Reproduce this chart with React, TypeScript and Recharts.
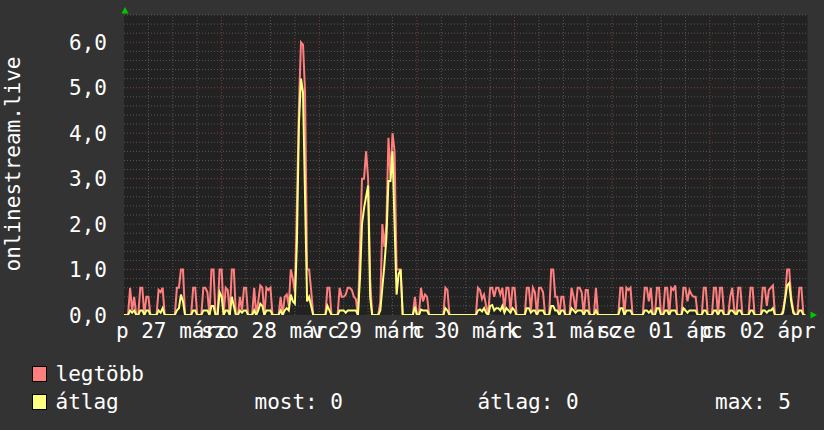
import React from 'react';
import { LineChart, Line, XAxis, YAxis, ReferenceLine, ReferenceArea } from 'recharts';

// one point every 30 minutes, 7 days (27 márc 00:00 -> 03 ápr 00:00)
const dayLabels = ['p 27 márc', 'szo 28 márc', 'v 29 márc', 'h 30 márc', 'k 31 márc', 'sze 01 ápr', 'cs 02 ápr'];
const dayLabelHours = [12, 36, 60, 84, 108, 132, 156];
const yTicks = [0, 1, 2, 3, 4, 5, 6];

// legtöbb (max)
const maxVals = [
  0, 0, 0, 0.6, 0.1, 0.4, 0, 0, 0.6, 0.6, 0, 0.4,
  0.4, 0, 0, 0, 0, 0.55, 0.5, 0.6, 0, 0, 0, 0,
  0, 0, 0.6, 0.6, 1, 1, 0, 0, 0, 0, 0.6, 0.6,
  0, 0, 0, 0.6, 0.6, 0.5, 0, 1, 1, 0, 0, 1,
  1, 0, 0.6, 0.55, 0, 1, 1, 0, 0, 0.4, 0.1, 0.6,
  0.6, 0, 0, 0, 0.6, 0, 0.3, 0.65, 0.6, 0, 0.6, 0.55,
  0.6, 0, 0, 0, 0, 0.4, 0, 0.4, 0.45, 0.2, 1, 0.8,
  0.5, 2.4, 4.6, 6, 5.95, 4.9, 1, 1, 0.55, 0, 0, 0,
  0, 0, 0, 0, 0.6, 0.6, 0, 0, 0, 0, 0.6, 0.4,
  0.4, 0.45, 0.6, 0.6, 0.55, 0.4, 0.35, 0, 1.5, 3, 3, 3.6,
  3, 0.8, 0, 0, 0, 0, 0.3, 2, 1.5, 2, 3.9, 3,
  4, 3.6, 1, 1, 1, 0, 0, 0, 0, 0, 0, 0.4,
  0, 0, 0.6, 0.3, 0.45, 0.4, 0, 0, 0, 0, 0, 0,
  0, 0, 0.6, 0.55, 0, 0, 0, 0, 0, 0, 0, 0,
  0, 0, 0, 0, 0, 0, 0.6, 0.55, 0.35, 0.45, 0.2, 0,
  0.6, 0.6, 0.4, 0.6, 0.6, 0.45, 0.6, 0.1, 0.6, 0.6, 0.1, 0.6,
  0.6, 0, 0, 0, 0, 0, 0.6, 0.6, 0.1, 0.6, 0.5, 0,
  0.6, 0.6, 0.5, 0, 0, 0, 1, 1, 0.4, 0.4, 0, 0.4,
  0.4, 0, 0, 0, 0.6, 0.4, 0.1, 0.6, 0.6, 0.5, 0, 0.55,
  0.55, 0, 0, 0, 0.6, 0, 0, 0, 0, 0, 0, 0,
  0, 0, 0, 0, 0.6, 0.6, 0, 0.6, 0.55, 0.6, 0, 0,
  0, 0, 0, 0, 0.6, 0.6, 0.3, 0.6, 0, 0, 0.6, 0.6,
  0, 0, 0.6, 0.6, 0, 0.6, 0.55, 0.65, 0, 0, 0, 0.6,
  0.6, 0.3, 0.55, 0.45, 0.4, 0.4, 0, 0, 0, 0.6, 0.6, 0,
  0, 0, 0.6, 0.6, 0, 0.6, 0.6, 0, 0, 0, 0.4, 0.6,
  0.1, 0, 0.6, 0.6, 0, 0, 0, 0, 0.6, 0.6, 0, 0,
  0, 0, 0.6, 0.6, 0.2, 0.55, 0.6, 0.65, 0, 0, 0, 0,
  0.1, 0.4, 1, 1, 0.4, 0.1, 0, 0, 0.6, 0.6, 0, 0,
];

// átlag (average)
const avgVals = [
  0, 0, 0, 0.1, 0.05, 0.1, 0, 0, 0.1, 0.1, 0, 0.1,
  0.1, 0, 0, 0, 0, 0.1, 0.05, 0.15, 0, 0, 0, 0,
  0, 0, 0.1, 0.15, 0.45, 0.3, 0, 0, 0, 0, 0.1, 0.1,
  0, 0, 0, 0.1, 0.1, 0.1, 0, 0.2, 0.2, 0, 0, 0.5,
  0.4, 0, 0.1, 0.1, 0, 0.4, 0.2, 0, 0, 0.1, 0.05, 0.1,
  0.1, 0, 0, 0, 0.1, 0, 0.1, 0.25, 0.2, 0, 0.1, 0.1,
  0.1, 0, 0, 0, 0, 0.1, 0, 0.1, 0.15, 0.1, 0.45, 0.3,
  0.25, 1.6, 4.2, 5.2, 4.9, 2.6, 0.3, 0.4, 0.2, 0, 0, 0,
  0, 0, 0, 0, 0.2, 0.1, 0, 0, 0, 0, 0.1, 0.1,
  0.1, 0.05, 0.1, 0.1, 0.1, 0.1, 0.1, 0, 0.8, 2, 2.35, 2.6,
  2.85, 0.4, 0, 0, 0, 0, 0.1, 0.6, 1.1, 1.7, 2.95, 2.95,
  3.6, 2, 0.45, 0.9, 1, 0, 0, 0, 0, 0, 0, 0.18,
  0, 0, 0.12, 0.1, 0.1, 0.1, 0, 0, 0, 0, 0, 0,
  0, 0, 0.15, 0.1, 0, 0, 0, 0, 0, 0, 0, 0,
  0, 0, 0, 0, 0, 0, 0.1, 0.12, 0.08, 0.15, 0.05, 0,
  0.2, 0.22, 0.1, 0.15, 0.15, 0.1, 0.2, 0.05, 0.15, 0.1, 0.05, 0.15,
  0.1, 0, 0, 0, 0, 0, 0.15, 0.15, 0.05, 0.1, 0.1, 0,
  0.1, 0.1, 0.1, 0, 0, 0, 0.2, 0.2, 0.1, 0.1, 0, 0.1,
  0.1, 0, 0, 0, 0.15, 0.1, 0.05, 0.1, 0.1, 0.1, 0, 0.1,
  0.1, 0, 0, 0, 0.1, 0, 0, 0, 0, 0, 0, 0,
  0, 0, 0, 0, 0.15, 0.15, 0, 0.1, 0.1, 0.1, 0, 0,
  0, 0, 0, 0, 0.1, 0.1, 0.05, 0.1, 0, 0, 0.15, 0.15,
  0, 0, 0.1, 0.1, 0, 0.1, 0.1, 0.1, 0, 0, 0, 0.15,
  0.1, 0.05, 0.1, 0.1, 0.1, 0.1, 0, 0, 0, 0.1, 0.1, 0,
  0, 0, 0.1, 0.1, 0, 0.1, 0.1, 0, 0, 0, 0.1, 0.1,
  0.05, 0, 0.1, 0.1, 0, 0, 0, 0, 0.1, 0.1, 0, 0,
  0, 0, 0.1, 0.1, 0.05, 0.1, 0.1, 0.15, 0, 0, 0, 0,
  0.05, 0.35, 0.65, 0.7, 0.3, 0.05, 0, 0, 0.1, 0.1, 0, 0,
];

const data = maxVals.map((v, i) => ({ t: i * 0.5, max: v, avg: avgVals[i] }));

// grid: minor every 0.2 / 6h, major every 1.0 / 24h
const majorY = [1, 2, 3, 4, 5, 6];
const minorY = Array.from({ length: 33 }, (_, k) => Math.round((k + 1) * 2) / 10).filter((v) => v % 1 !== 0);
const majorX = [24, 48, 72, 96, 120, 144];
const minorX = Array.from({ length: 27 }, (_, k) => (k + 1) * 6).filter((h) => h % 24 !== 0);

const FONT = '"DejaVu Sans Mono", monospace';
const BG = '#333333';
const PLOT_BG = '#222222';
const RED = '#ff7f7f';
const YELLOW = '#ffff7f';
const GREEN = '#00c800';

const current = avgVals[avgVals.length - 1];
const average = avgVals.reduce((a, b) => a + b, 0) / avgVals.length;
const peak = Math.max(...avgVals);

function DayTick({ x, y, payload }: any) {
  const idx = dayLabelHours.indexOf(payload.value);
  return (
    <text x={x} y={y + 23} textAnchor="middle" fill="#ffffff" fontFamily={FONT} fontSize={21}>
      {dayLabels[idx]}
    </text>
  );
}

function ValueTick({ x, y, payload }: any) {
  return (
    <text x={x} y={y + 7.6} textAnchor="end" fill="#ffffff" fontFamily={FONT} fontSize={21}>
      {payload.value.toFixed(1).replace('.', ',')}
    </text>
  );
}

export default function App() {
  return (
    <div style={{ position: 'fixed', left: 0, top: 0, width: 824, height: 430, background: BG, fontFamily: FONT }}>
      <LineChart width={824} height={430} data={data} margin={{ top: 15, right: 16.5, bottom: 85, left: 0 }}>
        <XAxis
          type="number"
          dataKey="t"
          domain={[0, 168]}
          ticks={dayLabelHours}
          interval={0}
          tick={<DayTick />}
          tickLine={false}
          axisLine={false}
          tickSize={0}
          tickMargin={0}
          height={30}
          allowDataOverflow
        />
        <YAxis
          type="number"
          domain={[0, 6.6]}
          ticks={yTicks}
          interval={0}
          tick={<ValueTick />}
          tickLine={false}
          axisLine={false}
          tickSize={0}
          tickMargin={17}
          width={124}
          allowDataOverflow
        />
        <ReferenceArea x1={0} x2={168} y1={0} y2={6.6} fill={PLOT_BG} fillOpacity={1} stroke="none" />
        {minorY.map((v) => (
          <ReferenceLine key={'my' + v} y={v} stroke="#575757" strokeDasharray="1 2" />
        ))}
        {minorX.map((h) => (
          <ReferenceLine key={'mx' + h} x={h} stroke="#575757" strokeDasharray="1 2" />
        ))}
        {majorY.map((v) => (
          <ReferenceLine key={'My' + v} y={v} stroke="#7a4040" strokeDasharray="1 2" />
        ))}
        {majorX.map((h) => (
          <ReferenceLine key={'Mx' + h} x={h} stroke="#7a4040" strokeDasharray="1 2" />
        ))}
        <Line type="linear" dataKey="max" stroke={RED} strokeWidth={2} dot={false} activeDot={false} isAnimationActive={false} />
        <Line type="linear" dataKey="avg" stroke={YELLOW} strokeWidth={2} dot={false} activeDot={false} isAnimationActive={false} />
      </LineChart>
      <svg width={824} height={430} style={{ position: 'absolute', left: 0, top: 0, pointerEvents: 'none' }}>
        <text transform="rotate(-90)" x={-164} y={20} textAnchor="middle" fill="#ffffff" fontFamily={FONT} fontSize={21}>
          onlinestream.live
        </text>
        <polygon points="121.5,13.5 128.5,13.5 125,7" fill={GREEN} />
        <polygon points="810.5,311.5 810.5,318.5 817,315" fill={GREEN} />
        <rect x={32.5} y={366.5} width={14} height={15} fill={RED} stroke="#000000" />
        <rect x={32.5} y={394.5} width={14} height={15} fill={YELLOW} stroke="#000000" />
        <g fill="#ffffff" fontFamily={FONT} fontSize={21}>
          <text x={55.5} y={381}>legtöbb</text>
          <text x={55.5} y={408.5}>átlag</text>
          <text x={254.5} y={408.5}>most: {current.toFixed(0)}</text>
          <text x={477.5} y={408.5}>átlag: {average.toFixed(0)}</text>
          <text x={715} y={408.5}>max: {peak.toFixed(0)}</text>
        </g>
      </svg>
    </div>
  );
}
